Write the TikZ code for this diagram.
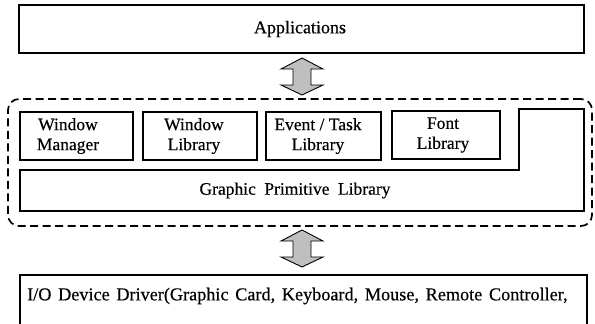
\documentclass[tikz,border=0pt]{standalone}
\usepackage{fontspec}
\setmainfont{Liberation Serif}[FakeBold=0.4]
\begin{document}
\begin{tikzpicture}[x=1pt,y=-1pt,
  box/.style={draw=black, line width=1.1pt, rectangle, inner sep=0pt},
  lbl/.style={font=\fontsize{17.5}{20}\selectfont, align=center, inner sep=0pt},
  widelbl/.style={lbl, execute at begin node={\spaceskip=8.5pt plus 1pt minus 1pt}},
  frame/.style={draw=black, line width=1.7pt, dash pattern=on 8pt off 4.5pt, rounded corners=11pt, rectangle, inner sep=0pt},
  dblarrow/.style={draw=black, line width=0.9pt, fill=gray!50, line join=miter}
]
\useasboundingbox (0,0) rectangle (595,324);
% Applications
\node[box, minimum width=565pt, minimum height=48pt] (app) at (301.5,29) {};
\node[lbl, font=\fontsize{18}{20}\selectfont] (appt) at (300,29) {Applications};
% upper double arrow
\coordinate (a1t) at (302,58);
\coordinate (a1b) at (302,95);
\draw[dblarrow] (a1t) -- ++(21,11) -- ++(-12,0) -- ++(0,16) -- ++(12,0) -- (a1b) -- ++(-21,-10) -- ++(12,0) -- ++(0,-16) -- ++(-12,0) -- cycle;
% dashed frame
\node[frame, minimum width=584pt, minimum height=127pt] (lib) at (300,162.5) {};
% library boxes
\node[box, minimum width=113pt, minimum height=48pt] (wm) at (76.5,136) {};
\node[lbl] at (68,136) {Window\\Manager};
\node[box, minimum width=114pt, minimum height=48pt] (wl) at (200,136) {};
\node[lbl] at (194,136) {Window\\Library};
\node[box, minimum width=115pt, minimum height=48pt] (et) at (323.5,136) {};
\node[lbl] at (318,136) {Event / Task\\Library};
\node[box, minimum width=108pt, minimum height=48pt] (fl) at (446,135) {};
\node[lbl] at (443,135) {Font\\Library};
% graphic primitive library (L-shape)
\coordinate (g1) at (20,170);
\coordinate (g2) at (519,170);
\coordinate (g3) at (519,109);
\coordinate (g4) at (584,109);
\coordinate (g5) at (584,211);
\coordinate (g6) at (20,211);
\draw[line width=1.1pt] (g1) -- (g2) -- (g3) -- (g4) -- (g5) -- (g6) -- cycle;
\node[widelbl] (gpl) at (295,190.5) {Graphic Primitive Library};
% lower double arrow
\coordinate (a2t) at (302,230);
\coordinate (a2b) at (302,267);
\draw[dblarrow] (a2t) -- ++(21,11) -- ++(-12,0) -- ++(0,16) -- ++(12,0) -- (a2b) -- ++(-21,-10) -- ++(12,0) -- ++(0,-16) -- ++(-12,0) -- cycle;
% I/O box (open at the bottom)
\coordinate (b1) at (20,324);
\coordinate (b2) at (587,275);
\coordinate (b3) at (587,324);
\draw[line width=1.1pt] (b1) |- (b2) -- (b3);
\node[lbl, font=\fontsize{18.2}{20}\selectfont, execute at begin node={\spaceskip=6.7pt plus 1pt minus 1pt}, anchor=west] (io) at (27,296) {I/O Device Driver(Graphic Card, Keyboard, Mouse, Remote Controller,};
\end{tikzpicture}
\end{document}
